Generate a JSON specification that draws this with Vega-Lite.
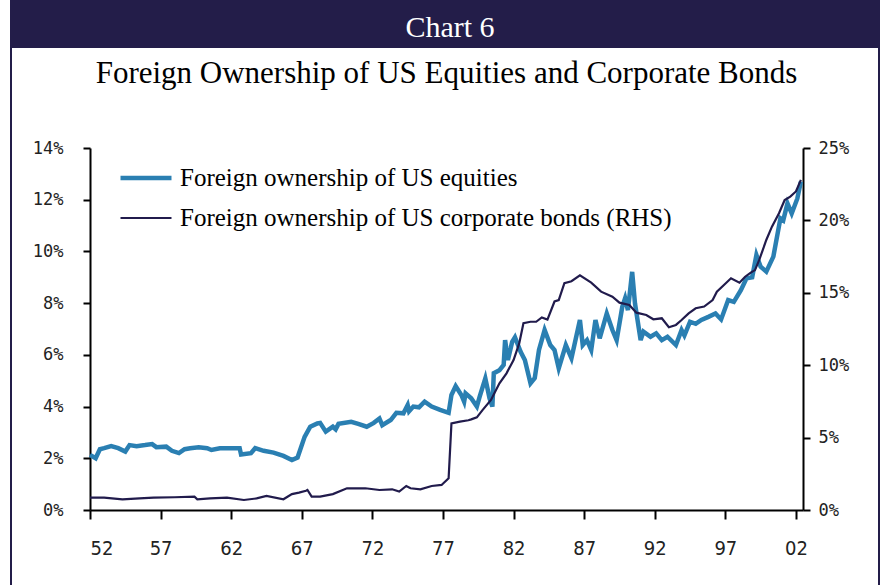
{
  "$schema": "https://vega.github.io/schema/vega-lite/v6.json",
  "padding": {"left": 10, "top": 0, "right": 0, "bottom": 0},
  "background": "white",
  "config": {"view": {"stroke": null}, "concat": {"spacing": 0}},
  "data": {"values": [
    {"year":1952.0,"s":"equities","v":2.13},{"year":1952.4,"s":"equities","v":2.0},{"year":1952.7,"s":"equities","v":2.35},{"year":1953.0,"s":"equities","v":2.39},{"year":1953.5,"s":"equities","v":2.47},{"year":1954.0,"s":"equities","v":2.39},{"year":1954.5,"s":"equities","v":2.26},{"year":1954.8,"s":"equities","v":2.51},{"year":1955.3,"s":"equities","v":2.47},{"year":1955.9,"s":"equities","v":2.51},{"year":1956.4,"s":"equities","v":2.55},{"year":1956.7,"s":"equities","v":2.43},{"year":1957.4,"s":"equities","v":2.45},{"year":1957.8,"s":"equities","v":2.29},{"year":1958.3,"s":"equities","v":2.2},{"year":1958.7,"s":"equities","v":2.35},{"year":1959.1,"s":"equities","v":2.39},{"year":1959.7,"s":"equities","v":2.43},{"year":1960.3,"s":"equities","v":2.39},{"year":1960.6,"s":"equities","v":2.32},{"year":1961.2,"s":"equities","v":2.39},{"year":1962.0,"s":"equities","v":2.39},{"year":1962.6,"s":"equities","v":2.39},{"year":1962.7,"s":"equities","v":2.15},{"year":1963.4,"s":"equities","v":2.2},{"year":1963.7,"s":"equities","v":2.39},{"year":1964.3,"s":"equities","v":2.29},{"year":1965.0,"s":"equities","v":2.22},{"year":1965.7,"s":"equities","v":2.09},{"year":1966.3,"s":"equities","v":1.93},{"year":1966.7,"s":"equities","v":2.03},{"year":1967.2,"s":"equities","v":2.83},{"year":1967.6,"s":"equities","v":3.22},{"year":1968.1,"s":"equities","v":3.35},{"year":1968.3,"s":"equities","v":3.37},{"year":1968.7,"s":"equities","v":3.03},{"year":1969.2,"s":"equities","v":3.22},{"year":1969.4,"s":"equities","v":3.12},{"year":1969.6,"s":"equities","v":3.33},{"year":1970.5,"s":"equities","v":3.41},{"year":1971.0,"s":"equities","v":3.33},{"year":1971.6,"s":"equities","v":3.22},{"year":1972.1,"s":"equities","v":3.37},{"year":1972.5,"s":"equities","v":3.54},{"year":1972.7,"s":"equities","v":3.28},{"year":1973.3,"s":"equities","v":3.48},{"year":1973.7,"s":"equities","v":3.76},{"year":1974.2,"s":"equities","v":3.74},{"year":1974.5,"s":"equities","v":4.06},{"year":1974.6,"s":"equities","v":3.82},{"year":1974.9,"s":"equities","v":4.0},{"year":1975.3,"s":"equities","v":3.97},{"year":1975.7,"s":"equities","v":4.19},{"year":1976.2,"s":"equities","v":4.0},{"year":1976.8,"s":"equities","v":3.87},{"year":1977.4,"s":"equities","v":3.76},{"year":1977.6,"s":"equities","v":4.45},{"year":1977.9,"s":"equities","v":4.79},{"year":1978.3,"s":"equities","v":4.45},{"year":1978.5,"s":"equities","v":4.19},{"year":1978.6,"s":"equities","v":4.51},{"year":1979.0,"s":"equities","v":4.32},{"year":1979.4,"s":"equities","v":4.0},{"year":1979.6,"s":"equities","v":4.38},{"year":1980.0,"s":"equities","v":5.09},{"year":1980.3,"s":"equities","v":4.32},{"year":1980.5,"s":"equities","v":4.0},{"year":1980.6,"s":"equities","v":5.29},{"year":1981.0,"s":"equities","v":5.41},{"year":1981.3,"s":"equities","v":5.61},{"year":1981.4,"s":"equities","v":6.57},{"year":1981.6,"s":"equities","v":5.8},{"year":1981.9,"s":"equities","v":6.5},{"year":1982.1,"s":"equities","v":6.68},{"year":1982.5,"s":"equities","v":6.12},{"year":1982.8,"s":"equities","v":5.8},{"year":1983.2,"s":"equities","v":4.9},{"year":1983.5,"s":"equities","v":5.1},{"year":1983.8,"s":"equities","v":6.19},{"year":1984.2,"s":"equities","v":6.96},{"year":1984.6,"s":"equities","v":6.38},{"year":1984.9,"s":"equities","v":6.19},{"year":1985.2,"s":"equities","v":5.48},{"year":1985.7,"s":"equities","v":6.38},{"year":1986.1,"s":"equities","v":5.87},{"year":1986.7,"s":"equities","v":7.35},{"year":1986.9,"s":"equities","v":6.38},{"year":1987.2,"s":"equities","v":6.57},{"year":1987.5,"s":"equities","v":6.19},{"year":1987.8,"s":"equities","v":7.35},{"year":1988.1,"s":"equities","v":6.64},{"year":1988.6,"s":"equities","v":7.6},{"year":1989.0,"s":"equities","v":6.96},{"year":1989.3,"s":"equities","v":6.57},{"year":1989.7,"s":"equities","v":7.86},{"year":1989.9,"s":"equities","v":8.19},{"year":1990.1,"s":"equities","v":7.73},{"year":1990.4,"s":"equities","v":9.21},{"year":1990.6,"s":"equities","v":7.99},{"year":1991.0,"s":"equities","v":6.57},{"year":1991.2,"s":"equities","v":6.9},{"year":1991.7,"s":"equities","v":6.7},{"year":1992.1,"s":"equities","v":6.83},{"year":1992.5,"s":"equities","v":6.57},{"year":1992.9,"s":"equities","v":6.7},{"year":1993.5,"s":"equities","v":6.38},{"year":1993.9,"s":"equities","v":6.96},{"year":1994.1,"s":"equities","v":6.75},{"year":1994.5,"s":"equities","v":7.28},{"year":1994.9,"s":"equities","v":7.2},{"year":1995.3,"s":"equities","v":7.35},{"year":1995.8,"s":"equities","v":7.47},{"year":1996.3,"s":"equities","v":7.6},{"year":1996.7,"s":"equities","v":7.37},{"year":1997.2,"s":"equities","v":8.12},{"year":1997.6,"s":"equities","v":8.05},{"year":1998.1,"s":"equities","v":8.5},{"year":1998.5,"s":"equities","v":8.96},{"year":1998.9,"s":"equities","v":9.0},{"year":1999.2,"s":"equities","v":9.86},{"year":1999.5,"s":"equities","v":9.41},{"year":1999.9,"s":"equities","v":9.22},{"year":2000.4,"s":"equities","v":9.8},{"year":2000.9,"s":"equities","v":11.28},{"year":2001.1,"s":"equities","v":11.2},{"year":2001.4,"s":"equities","v":11.86},{"year":2001.7,"s":"equities","v":11.47},{"year":2002.1,"s":"equities","v":12.05},{"year":2002.35,"s":"equities","v":12.7},
    {"year":1952.0,"s":"bonds","v":0.85},{"year":1953.0,"s":"bonds","v":0.85},{"year":1954.3,"s":"bonds","v":0.74},{"year":1955.5,"s":"bonds","v":0.8},{"year":1956.5,"s":"bonds","v":0.85},{"year":1958.0,"s":"bonds","v":0.88},{"year":1959.4,"s":"bonds","v":0.92},{"year":1959.6,"s":"bonds","v":0.74},{"year":1960.5,"s":"bonds","v":0.8},{"year":1961.7,"s":"bonds","v":0.85},{"year":1962.9,"s":"bonds","v":0.69},{"year":1963.8,"s":"bonds","v":0.8},{"year":1964.5,"s":"bonds","v":0.97},{"year":1965.7,"s":"bonds","v":0.74},{"year":1966.3,"s":"bonds","v":1.1},{"year":1966.8,"s":"bonds","v":1.2},{"year":1967.3,"s":"bonds","v":1.33},{"year":1967.4,"s":"bonds","v":1.38},{"year":1967.7,"s":"bonds","v":0.92},{"year":1968.3,"s":"bonds","v":0.92},{"year":1969.2,"s":"bonds","v":1.1},{"year":1970.2,"s":"bonds","v":1.5},{"year":1971.5,"s":"bonds","v":1.5},{"year":1972.5,"s":"bonds","v":1.38},{"year":1973.4,"s":"bonds","v":1.43},{"year":1973.9,"s":"bonds","v":1.27},{"year":1974.4,"s":"bonds","v":1.66},{"year":1974.7,"s":"bonds","v":1.5},{"year":1975.4,"s":"bonds","v":1.43},{"year":1976.2,"s":"bonds","v":1.66},{"year":1976.9,"s":"bonds","v":1.73},{"year":1977.4,"s":"bonds","v":2.19},{"year":1977.6,"s":"bonds","v":5.98},{"year":1978.2,"s":"bonds","v":6.1},{"year":1978.8,"s":"bonds","v":6.2},{"year":1979.0,"s":"bonds","v":6.26},{"year":1979.4,"s":"bonds","v":6.4},{"year":1979.8,"s":"bonds","v":6.9},{"year":1980.4,"s":"bonds","v":7.6},{"year":1981.0,"s":"bonds","v":8.75},{"year":1981.5,"s":"bonds","v":9.44},{"year":1982.0,"s":"bonds","v":10.36},{"year":1982.4,"s":"bonds","v":11.5},{"year":1982.7,"s":"bonds","v":12.9},{"year":1983.2,"s":"bonds","v":13.0},{"year":1983.6,"s":"bonds","v":13.0},{"year":1984.0,"s":"bonds","v":13.3},{"year":1984.4,"s":"bonds","v":13.15},{"year":1984.9,"s":"bonds","v":14.4},{"year":1985.2,"s":"bonds","v":14.5},{"year":1985.6,"s":"bonds","v":15.66},{"year":1986.1,"s":"bonds","v":15.8},{"year":1986.7,"s":"bonds","v":16.2},{"year":1987.5,"s":"bonds","v":15.7},{"year":1988.2,"s":"bonds","v":15.08},{"year":1989.0,"s":"bonds","v":14.73},{"year":1989.5,"s":"bonds","v":14.32},{"year":1990.2,"s":"bonds","v":14.16},{"year":1990.7,"s":"bonds","v":13.63},{"year":1991.4,"s":"bonds","v":13.47},{"year":1991.9,"s":"bonds","v":13.17},{"year":1992.5,"s":"bonds","v":13.24},{"year":1993.0,"s":"bonds","v":12.62},{"year":1993.5,"s":"bonds","v":12.78},{"year":1993.9,"s":"bonds","v":13.12},{"year":1994.4,"s":"bonds","v":13.58},{"year":1994.9,"s":"bonds","v":13.93},{"year":1995.5,"s":"bonds","v":14.05},{"year":1996.1,"s":"bonds","v":14.5},{"year":1996.4,"s":"bonds","v":15.08},{"year":1996.9,"s":"bonds","v":15.54},{"year":1997.4,"s":"bonds","v":16.0},{"year":1998.0,"s":"bonds","v":15.7},{"year":1998.4,"s":"bonds","v":16.11},{"year":1998.8,"s":"bonds","v":16.39},{"year":1999.1,"s":"bonds","v":16.57},{"year":1999.4,"s":"bonds","v":17.27},{"year":1999.9,"s":"bonds","v":18.65},{"year":2000.3,"s":"bonds","v":19.57},{"year":2000.8,"s":"bonds","v":20.49},{"year":2001.2,"s":"bonds","v":21.4},{"year":2001.6,"s":"bonds","v":21.64},{"year":2002.0,"s":"bonds","v":22.0},{"year":2002.35,"s":"bonds","v":22.8}
  ]},
  "spacing": 0,
  "hconcat": [
    {
      "width": 2, "height": 600,
      "view": {"fill": "#231d49", "stroke": null},
      "mark": {"type": "text"},
      "transform": [{"filter": "datum.year < 0"}],
      "encoding": {"text": {"value": ""}}
    },
    {
      "spacing": 10,
      "vconcat": [
        {
          "width": 866, "height": 48,
          "view": {"fill": "#231d49", "stroke": null},
          "transform": [{"filter": "datum.year == 1952 && datum.s == 'equities'"}],
          "mark": {"type": "text", "color": "white", "font": "Liberation Serif", "fontSize": 30, "baseline": "middle", "dy": 4, "dx": 5},
          "encoding": {"text": {"value": "Chart 6"}}
        },
        {
          "spacing": 0,
          "hconcat": [
            {
              "width": 20, "height": 2,
              "mark": {"type": "text"},
              "transform": [{"filter": "datum.year < 0"}],
              "encoding": {"text": {"value": ""}}
            },
            {
              "width": 713, "height": 362,
              "title": {"text": "Foreign Ownership of US Equities and Corporate Bonds", "font": "Liberation Serif", "fontSize": 31, "fontWeight": "normal", "color": "black", "frame": "group", "offset": 49},
              "encoding": {
                "x": {"field": "year", "type": "quantitative",
                  "scale": {"domain": [1952, 2002.5], "nice": false, "zero": false},
                  "axis": {"values": [1952,1957,1962,1967,1972,1977,1982,1987,1992,1997,2002],
                    "labelExpr": "substring(toString(datum.value), 2, 4)", "title": null, "grid": false,
                    "labelFont": "DejaVu Sans Condensed, sans-serif", "labelFontSize": 20, "labelColor": "#222",
                    "tickSize": 9, "tickWidth": 2, "tickColor": "black", "domainColor": "black", "domainWidth": 2, "labelPadding": 19}}
              },
              "layer": [
                {
                  "transform": [{"filter": "datum.s == 'equities'"}],
                  "mark": {"type": "line"},
                  "encoding": {
                    "y": {"field": "v", "type": "quantitative", "scale": {"domain": [0, 14], "nice": false},
                      "axis": {"orient": "left", "values": [0,2,4,6,8,10,12,14], "labelExpr": "datum.value + '%'", "title": null, "grid": false,
                        "labelFont": "DejaVu Sans Mono", "labelFontSize": 17, "labelColor": "#222", "labelPadding": 20,
                        "tickSize": 7, "tickWidth": 2, "tickColor": "black", "domainColor": "black", "domainWidth": 2}},
                    "color": {"field": "s", "type": "nominal", "scale": {"domain": ["equities", "bonds"], "range": ["#2a7fb2", "#211b4c"]},
                      "legend": {"orient": "none", "legendX": 108, "legendY": 150, "title": null, "symbolType": "stroke", "symbolSize": 2600,
                        "labelFont": "Liberation Serif", "labelFontSize": 25, "labelColor": "black", "labelOffset": 6, "rowPadding": -40, "labelLimit": 800,
                        "labelExpr": "datum.label == 'equities' ? 'Foreign ownership of US equities' : 'Foreign ownership of US corporate bonds (RHS)'"}},
                    "strokeWidth": {"field": "s", "type": "nominal", "scale": {"domain": ["equities", "bonds"], "range": [4.5, 2.2]}, "legend": null}
                  }
                },
                {
                  "transform": [{"filter": "datum.s == 'bonds'"}],
                  "mark": {"type": "line"},
                  "encoding": {
                    "y": {"field": "v", "type": "quantitative", "scale": {"domain": [0, 25], "nice": false},
                      "axis": {"orient": "right", "values": [0,5,10,15,20,25], "labelExpr": "datum.value + '%'", "title": null, "grid": false,
                        "labelFont": "DejaVu Sans Mono", "labelFontSize": 17, "labelColor": "#222", "labelPadding": 8,
                        "tickSize": 7, "tickWidth": 2, "tickColor": "black", "domainColor": "black", "domainWidth": 2}},
                    "color": {"field": "s", "type": "nominal"},
                    "strokeWidth": {"field": "s", "type": "nominal", "legend": null}
                  }
                }
              ],
              "resolve": {"scale": {"y": "independent"}}
            }
          ]
        }
      ]
    },
    {
      "width": 2, "height": 600,
      "view": {"fill": "#231d49", "stroke": null},
      "mark": {"type": "text"},
      "transform": [{"filter": "datum.year < 0"}],
      "encoding": {"text": {"value": ""}}
    }
  ]
}
